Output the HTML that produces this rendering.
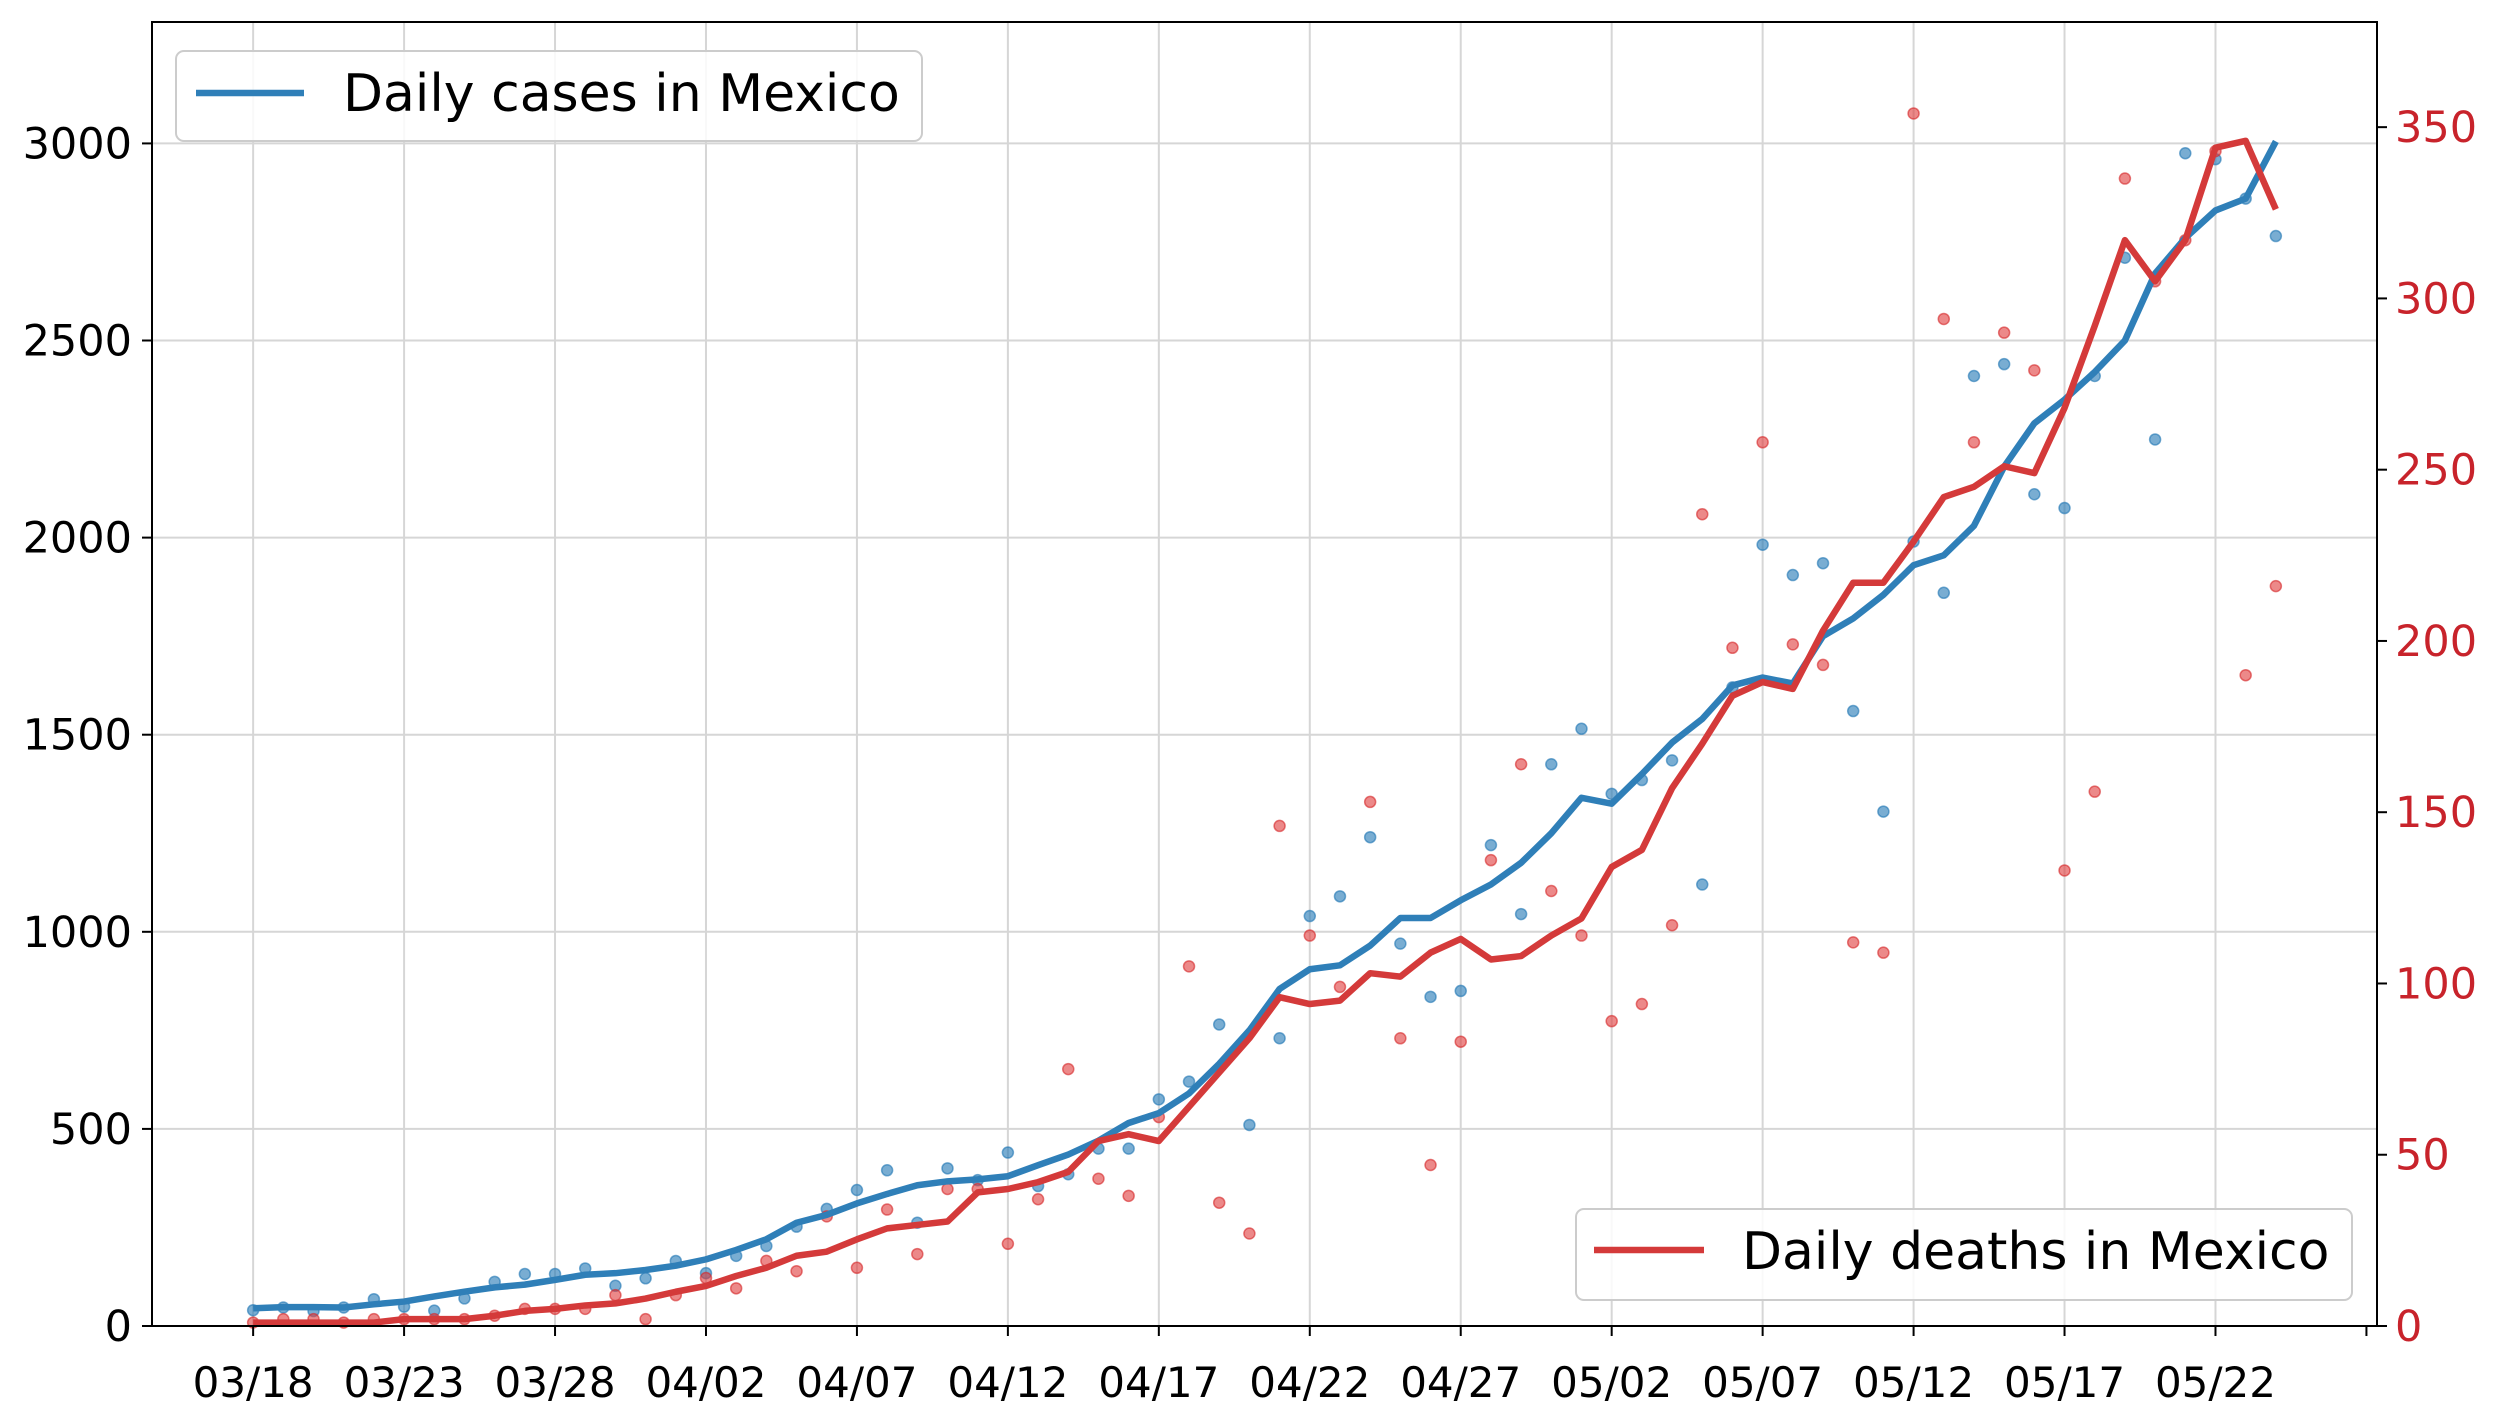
<!DOCTYPE html>
<html><head><meta charset="utf-8"><style>
html,body{margin:0;padding:0;background:#fff;}
svg{display:block;font-family:"DejaVu Sans","Liberation Sans",sans-serif;}
</style></head><body>
<svg id="chart" width="2500" height="1406" viewBox="0 0 2500 1406" xmlns="http://www.w3.org/2000/svg">
<g id="grid"></g>
<g id="marks"></g>
<g id="axes"></g>
<g>
<rect x="176" y="51" width="746" height="90" rx="8" fill="#fff" fill-opacity="0.85" stroke="#ccc" stroke-width="2"/>
<line x1="196" y1="93" x2="304" y2="93" stroke="#2f7fb8" stroke-width="6.5"/>
<text x="343" y="111" font-size="52" fill="#000">Daily cases in Mexico</text>
</g>
<g>
<rect x="1576" y="1209" width="776" height="91" rx="8" fill="#fff" fill-opacity="0.85" stroke="#ccc" stroke-width="2"/>
<line x1="1594" y1="1250" x2="1704" y2="1250" stroke="#d43a3a" stroke-width="6.5"/>
<text x="1742" y="1269" font-size="52" fill="#000">Daily deaths in Mexico</text>
</g>
</svg>
<script>
const caseDots=[40,47,38,47,68,49,39,70,112,132,132,146,102,121,165,134,178,203,252,297,345,395,262,400,370,440,355,385,450,450,575,620,765,510,730,1040,1090,1240,970,835,850,1220,1045,1425,1515,1350,1385,1435,1120,1620,1982,1905,1935,1560,1305,1990,1860,2410,2440,2110,2075,2410,2710,2249,2975,2960,2860,2765];
const caseLine=[45,48,48,47,55,62,75,87,98,105,117,130,134,142,153,169,193,220,262,282,311,335,357,367,372,380,408,435,470,515,540,590,665,750,855,905,915,965,1035,1035,1080,1120,1175,1250,1340,1325,1400,1480,1540,1625,1645,1630,1750,1795,1855,1930,1955,2030,2180,2290,2350,2420,2500,2670,2760,2830,2860,3005];
const deathDots=[1,2,2,1,2,2,2,2,3,5,5,5,9,2,9,14,11,19,16,32,17,34,21,40,40,24,37,75,43,38,61,105,36,27,146,114,99,153,84,47,83,136,164,127,114,89,94,117,237,198,258,199,193,112,109,354,294,258,290,279,133,156,335,305,317,343,190,216];
const deathLine=[1,1,1,1,1,2,2,2,3,4.4,5,6,6.6,8,10,11.7,14.6,17,20.5,21.7,25.3,28.5,29.5,30.5,39,40,42,45,54,56,54,64,74,84,96,94,95,103,102,109,113,107,108,114,119,134,139,157,170,184,188,186,203,217,217,229,242,245,251,249,268,292,317,305,317,344,346,326];
const xTickLabels=["03/18","03/23","03/28","04/02","04/07","04/12","04/17","04/22","04/27","05/02","05/07","05/12","05/17","05/22"];
const leftTicks=[0,500,1000,1500,2000,2500,3000];
const rightTicks=[0,50,100,150,200,250,300,350];

const L=152,R=2377,T=22,B=1326;
const x=i=>L+(i+3.35)/73.7*(R-L);
const yL=v=>B-v/3308*(B-T);
const yR=v=>B-v/380.7*(B-T);
const NS="http://www.w3.org/2000/svg";
function mk(tag,attrs,parent){const e=document.createElementNS(NS,tag);for(const k in attrs)e.setAttribute(k,attrs[k]);parent.appendChild(e);return e;}
const grid=document.getElementById('grid'),marks=document.getElementById('marks'),axes=document.getElementById('axes');

xTickLabels.forEach((lab,k)=>{
  const xx=x(k*5);
  const g=mk('line',{x1:xx,x2:xx,y1:T,y2:B,stroke:'#d6d6d6','stroke-width':2},grid);
  
  
  mk('line',{x1:xx,x2:xx,y1:B,y2:B+10,stroke:'#000','stroke-width':2},axes);
  const t=mk('text',{x:xx,y:1397,'font-size':42,'text-anchor':'middle',fill:'#000'},axes);
  t.textContent=lab;
  
  
});
mk('line',{x1:x(70),x2:x(70),y1:B,y2:B+10,stroke:'#000','stroke-width':2},axes);
leftTicks.forEach(v=>{
  const yy=yL(v);
  const g=mk('line',{x1:L,x2:R,y1:yy,y2:yy,stroke:'#d6d6d6','stroke-width':2},grid);
  
  
  mk('line',{x1:L-10,x2:L,y1:yy,y2:yy,stroke:'#000','stroke-width':2},axes);
  const t=mk('text',{x:L-20,y:yy+15,'font-size':43,'text-anchor':'end',fill:'#000'},axes);
  t.textContent=v;
  
  
});
rightTicks.forEach(v=>{
  const yy=yR(v);
  mk('line',{x1:R,x2:R+10,y1:yy,y2:yy,stroke:'#000','stroke-width':2},axes);
  const t=mk('text',{x:R+18,y:yy+15,'font-size':43,'text-anchor':'start',fill:'#c8232b'},axes);
  t.textContent=v;
  
  
});
const frame=mk('rect',{x:L,y:T,width:R-L,height:B-T,fill:'none',stroke:'#000','stroke-width':2},axes);



caseDots.forEach((v,i)=>{
  const c=mk('circle',{cx:x(i),cy:yL(v),r:5.5,fill:'#1f77b4','fill-opacity':0.6,stroke:'#1f77b4','stroke-opacity':0.6,'stroke-width':1.5},marks);
  
  
});
deathDots.forEach((v,i)=>{
  const c=mk('circle',{cx:x(i),cy:yR(v),r:5.5,fill:'#e03a3a','fill-opacity':0.6,stroke:'#d62728','stroke-opacity':0.6,'stroke-width':1.5},marks);
  
  
});
const pc=mk('polyline',{points:caseLine.map((v,i)=>x(i)+','+yL(v)).join(' '),fill:'none',stroke:'#2f7fb8','stroke-width':6.5,'stroke-linejoin':'round'},marks);


const pd=mk('polyline',{points:deathLine.map((v,i)=>x(i)+','+yR(v)).join(' '),fill:'none',stroke:'#d43a3a','stroke-width':6.5,'stroke-linejoin':'round'},marks);


</script>
</body></html>
